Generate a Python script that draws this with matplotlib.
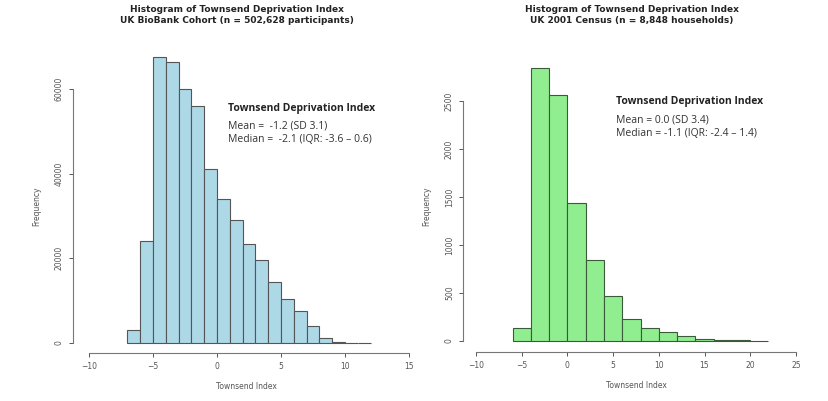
import numpy as np
import matplotlib
matplotlib.use("Agg")
import matplotlib.pyplot as plt

W, H = 829, 401

# UK BioBank: bins of width 1 from -7 to 12
ukb_edges = np.arange(-7, 13, 1)
ukb_counts = [3000, 24000, 67500, 66500, 60000, 56000, 41000, 34000, 29000,
              23500, 19500, 14500, 10500, 7500, 4000, 1200, 300, 80, 30]

# UK 2001 Census: bins of width 2 from -6 to 22
cen_edges = np.arange(-6, 24, 2)
cen_counts = [140, 2840, 2560, 1440, 840, 470, 230, 130, 95, 55, 25, 15, 5, 3]

TICK_C = "#555555"


def px_axes(fig, x0, x1, ytop, ybot):
    return fig.add_axes([x0 / W, 1 - ybot / H, (x1 - x0) / W, (ybot - ytop) / H])


def style(ax, xb, yb, yticks, xticks):
    for s in ["top", "right"]:
        ax.spines[s].set_visible(False)
    ax.spines["left"].set_bounds(*yb)
    ax.spines["bottom"].set_bounds(*xb)
    for s in ["left", "bottom"]:
        ax.spines[s].set_color("#777777")
        ax.spines[s].set_linewidth(0.8)
    ax.set_xticks(xticks)
    ax.set_yticks(yticks)
    ax.set_yticklabels([str(t) for t in yticks], rotation=90, va="center")
    ax.tick_params(labelsize=5.5, colors=TICK_C, length=3, width=0.7)
    ax.set_xlabel("Townsend Index", fontsize=5.5, color=TICK_C, labelpad=8)
    ax.set_ylabel("Frequency", fontsize=5.5, color=TICK_C, labelpad=10)
    ax.patch.set_visible(False)


fig = plt.figure(figsize=(W / 100, H / 100), dpi=100)

ax1 = px_axes(fig, 73, 420, 60, 353)
ax1.bar(ukb_edges[:-1], ukb_counts, width=1, align="edge",
        color="#add8e6", edgecolor="#555555", linewidth=0.8, clip_on=False)
ax1.set_xlim(-11.25, 15.86)
ax1.set_ylim(-2362, 66855)
style(ax1, (-10, 15), (0, 60000), [0, 20000, 40000, 60000], [-10, -5, 0, 5, 10, 15])

ax2 = px_axes(fig, 463, 810, 60, 352)
ax2.bar(cen_edges[:-1], cen_counts, width=2, align="edge",
        color="#90ee90", edgecolor="#3a5a3a", linewidth=0.8, clip_on=False)
ax2.set_xlim(-11.42, 26.54)
ax2.set_ylim(-115, 2927)
style(ax2, (-10, 25), (0, 2500), [0, 500, 1000, 1500, 2000, 2500], [-10, -5, 0, 5, 10, 15, 20, 25])

fig.text(237 / W, 1 - 15 / H, "Histogram of Townsend Deprivation Index\nUK BioBank Cohort (n = 502,628 participants)",
         ha="center", va="center", fontsize=6.5, fontweight="bold", color="#222222", linespacing=1.2)
fig.text(632 / W, 1 - 15 / H, "Histogram of Townsend Deprivation Index\nUK 2001 Census (n = 8,848 households)",
         ha="center", va="center", fontsize=6.5, fontweight="bold", color="#222222", linespacing=1.2)

fig.text(228 / W, 1 - 108 / H, "Townsend Deprivation Index", fontsize=7.5, fontweight="bold",
         color="#222222", va="center", family="Open Sans")
fig.text(228 / W, 1 - 121 / H, "Mean =  -1.2 (SD 3.1)\nMedian =  -2.1 (IQR: -3.6 \u2013 0.6)",
         fontsize=7.5, color="#333333", va="top", linespacing=1.3, family="Open Sans")
fig.text(616 / W, 1 - 102 / H, "Townsend Deprivation Index", fontsize=7.5, fontweight="bold",
         color="#222222", va="center", family="Open Sans")
fig.text(616 / W, 1 - 115 / H, "Mean = 0.0 (SD 3.4)\nMedian = -1.1 (IQR: -2.4 \u2013 1.4)",
         fontsize=7.5, color="#333333", va="top", linespacing=1.3, family="Open Sans")

fig.savefig("out.png", dpi=100)
